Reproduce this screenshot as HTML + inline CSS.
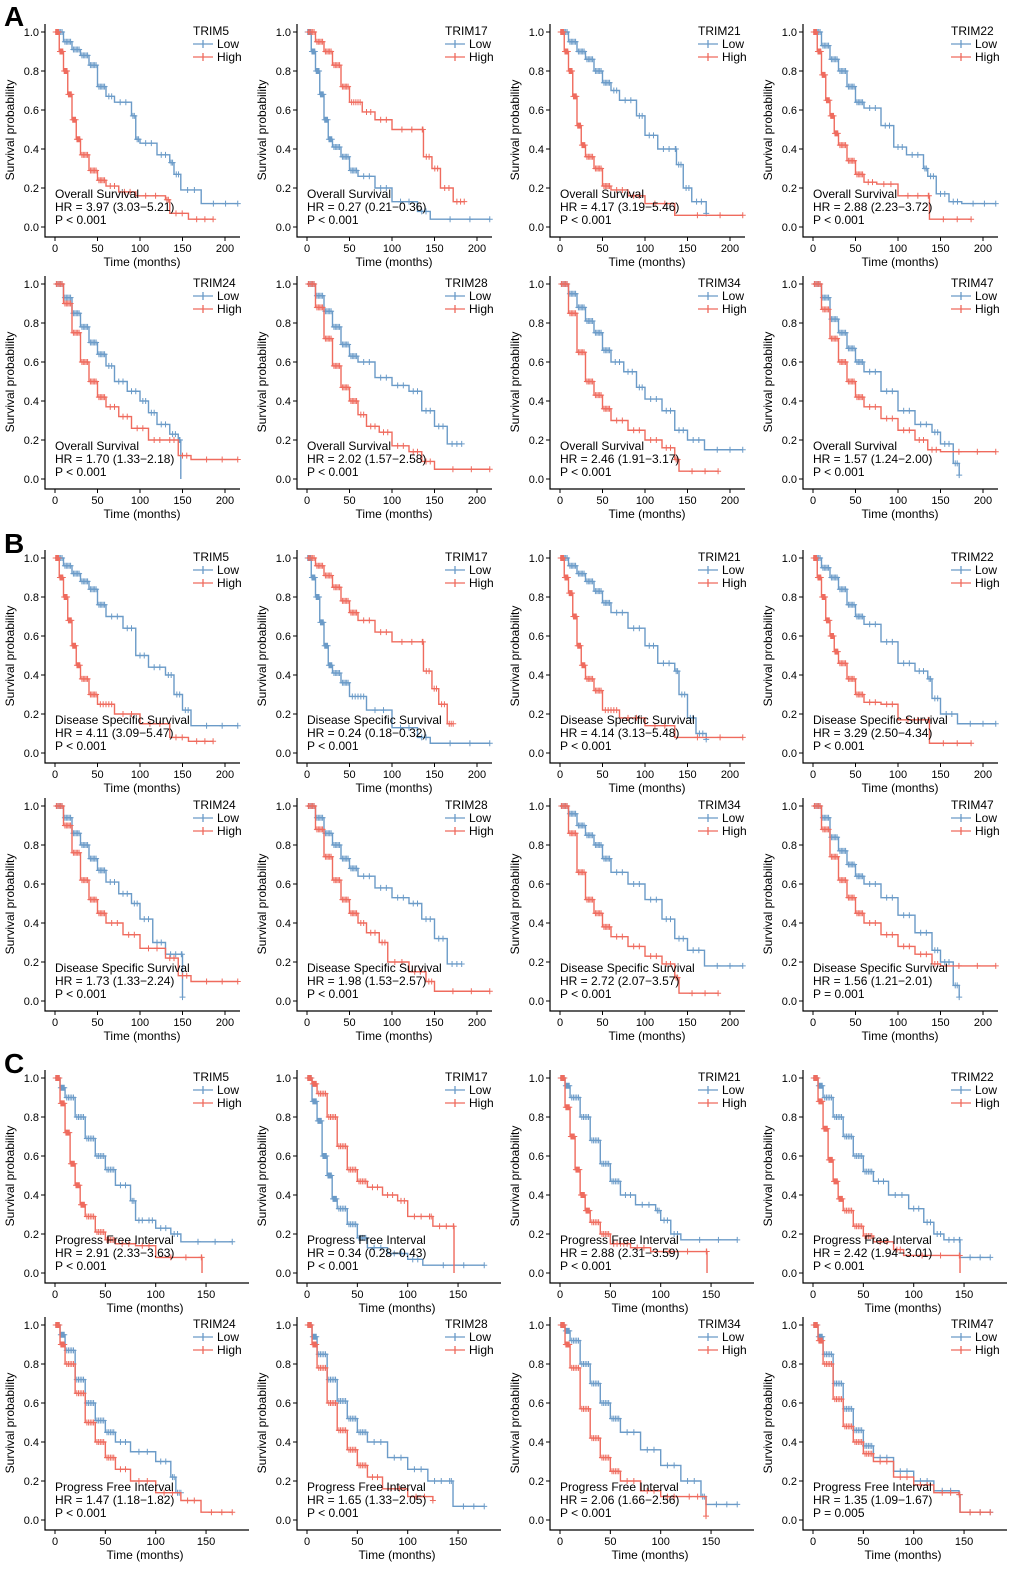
<!DOCTYPE html>
<html><head><meta charset="utf-8"><style>
body{margin:0;background:#fff;width:1020px;height:1583px;overflow:hidden;font-family:"Liberation Sans",Arial,sans-serif}
svg text{font-family:"Liberation Sans",Arial,sans-serif}
</style></head><body>
<svg id="fig" width="1020" height="1583" viewBox="0 0 1020 1583" xmlns="http://www.w3.org/2000/svg"></svg>
<script>
const genes=["TRIM5","TRIM17","TRIM21","TRIM22","TRIM24","TRIM28","TRIM34","TRIM47"];
const sections=["A","B","C"];
const endpoints=["Overall Survival","Disease Specific Survival","Progress Free Interval"];
const hrA=["3.97 (3.03\u22125.21)","0.27 (0.21\u22120.36)","4.17 (3.19\u22125.46)","2.88 (2.23\u22123.72)","1.70 (1.33\u22122.18)","2.02 (1.57\u22122.58)","2.46 (1.91\u22123.17)","1.57 (1.24\u22122.00)"];
const hrB=["4.11 (3.09\u22125.47)","0.24 (0.18\u22120.32)","4.14 (3.13\u22125.48)","3.29 (2.50\u22124.34)","1.73 (1.33\u22122.24)","1.98 (1.53\u22122.57)","2.72 (2.07\u22123.57)","1.56 (1.21\u22122.01)"];
const hrC=["2.91 (2.33\u22123.63)","0.34 (0.28\u22120.43)","2.88 (2.31\u22123.59)","2.42 (1.94\u22123.01)","1.47 (1.18\u22121.82)","1.65 (1.33\u22122.05)","2.06 (1.66\u22122.56)","1.35 (1.09\u22121.67)"];
const pA=["P < 0.001","P < 0.001","P < 0.001","P < 0.001","P < 0.001","P < 0.001","P < 0.001","P < 0.001"];
const pB=["P < 0.001","P < 0.001","P < 0.001","P < 0.001","P < 0.001","P < 0.001","P < 0.001","P = 0.001"];
const pC=["P < 0.001","P < 0.001","P < 0.001","P < 0.001","P < 0.001","P < 0.001","P < 0.001","P = 0.005"];
const xTicksAB=[0,50,100,150,200];
const xTicksC=[0,50,100,150];
const yTicks=[0,0.2,0.4,0.6,0.8,1.0];
const lowA=[
[[0,1],[10,.95],[20,.91],[30,.88],[40,.83],[50,.72],[60,.67],[70,.64],[90,.57],[95,.45],[100,.43],[120,.37],[135,.33],[140,.27],[148,.19],[172,.12],[215,.12]],
[[0,1],[5,.9],[10,.8],[15,.68],[20,.55],[25,.45],[30,.41],[40,.36],[50,.29],[60,.26],[80,.2],[100,.13],[130,.08],[145,.04],[215,.04]],
[[0,1],[10,.95],[20,.9],[30,.86],[40,.8],[50,.74],[60,.7],[70,.65],[90,.57],[100,.47],[115,.4],[135,.4],[137,.32],[145,.2],[155,.13],[172,.07]],
[[0,1],[10,.93],[20,.86],[30,.8],[40,.72],[50,.64],[60,.61],[80,.52],[95,.41],[110,.37],[130,.3],[135,.26],[145,.17],[160,.13],[175,.12],[215,.12]],
[[0,1],[10,.93],[20,.85],[30,.78],[40,.7],[50,.64],[60,.58],[70,.5],[85,.45],[100,.4],[110,.34],[120,.28],[135,.23],[145,.2],[148,0]],
[[0,1],[10,.94],[20,.86],[30,.78],[40,.69],[50,.63],[60,.6],[80,.52],[100,.48],[120,.45],[135,.35],[150,.27],[165,.18],[182,.18]],
[[0,1],[10,.95],[20,.88],[30,.81],[40,.75],[50,.66],[60,.6],[75,.55],[90,.47],[100,.41],[120,.35],[135,.25],[150,.2],[170,.15],[215,.15]],
[[0,1],[10,.93],[20,.82],[30,.75],[40,.67],[50,.6],[60,.55],[80,.45],[100,.35],[120,.28],[140,.24],[150,.18],[165,.08],[172,.02]]];
const highA=[
[[0,1],[5,.9],[10,.8],[15,.68],[20,.55],[25,.45],[30,.37],[40,.29],[50,.24],[60,.21],[75,.18],[95,.16],[130,.14],[135,.07],[157,.04],[186,.04]],
[[0,1],[10,.95],[20,.9],[30,.83],[40,.72],[50,.64],[65,.59],[80,.55],[100,.5],[135,.5],[137,.36],[147,.3],[157,.2],[172,.13],[185,.13]],
[[0,1],[5,.9],[10,.8],[15,.67],[20,.52],[25,.42],[30,.36],[40,.3],[50,.21],[60,.19],[80,.16],[100,.12],[135,.06],[215,.06]],
[[0,1],[5,.9],[10,.78],[15,.65],[20,.57],[25,.48],[30,.42],[40,.34],[50,.27],[60,.23],[75,.22],[100,.16],[135,.16],[137,.04],[186,.04]],
[[0,1],[10,.9],[20,.75],[30,.6],[40,.5],[50,.42],[60,.37],[75,.32],[90,.26],[110,.2],[130,.2],[145,.12],[160,.1],[215,.1]],
[[0,1],[10,.88],[20,.72],[30,.58],[40,.47],[50,.4],[60,.33],[70,.27],[85,.24],[100,.17],[120,.14],[135,.09],[150,.05],[215,.05]],
[[0,1],[10,.85],[20,.65],[30,.5],[40,.43],[50,.36],[60,.3],[80,.25],[100,.2],[120,.16],[135,.1],[140,.04],[186,.04]],
[[0,1],[10,.87],[20,.72],[30,.6],[40,.5],[50,.42],[60,.37],[80,.31],[100,.25],[120,.2],[135,.15],[150,.14],[215,.14]]];
const lowB=[
[[0,1],[10,.96],[20,.92],[30,.88],[40,.84],[50,.76],[60,.7],[80,.64],[95,.5],[110,.44],[130,.4],[140,.3],[150,.22],[160,.14],[215,.14]],
[[0,1],[5,.9],[10,.8],[15,.67],[20,.55],[25,.45],[30,.41],[40,.36],[50,.29],[70,.22],[100,.13],[130,.08],[145,.05],[215,.05]],
[[0,1],[10,.96],[20,.92],[30,.88],[40,.83],[50,.77],[60,.72],[80,.64],[100,.55],[115,.46],[135,.42],[140,.3],[150,.18],[160,.1],[172,.07]],
[[0,1],[10,.95],[20,.9],[30,.84],[40,.76],[50,.7],[60,.66],[80,.57],[100,.46],[120,.42],[135,.38],[140,.28],[150,.2],[170,.15],[215,.15]],
[[0,1],[10,.94],[20,.86],[30,.8],[40,.73],[50,.67],[60,.61],[75,.55],[90,.5],[100,.42],[115,.3],[130,.24],[148,.24],[150,.02]],
[[0,1],[10,.94],[20,.86],[30,.8],[40,.73],[50,.68],[60,.64],[80,.58],[100,.53],[120,.5],[135,.42],[150,.32],[165,.19],[182,.19]],
[[0,1],[10,.96],[20,.9],[30,.85],[40,.8],[50,.73],[60,.66],[80,.6],[100,.52],[120,.42],[135,.32],[150,.26],[170,.18],[215,.18]],
[[0,1],[10,.94],[20,.84],[30,.77],[40,.7],[50,.64],[60,.6],[80,.53],[100,.44],[120,.35],[140,.26],[150,.2],[165,.08],[172,.02]]];
const highB=[
[[0,1],[5,.9],[10,.8],[15,.68],[20,.55],[25,.45],[30,.38],[40,.3],[50,.25],[70,.2],[100,.15],[135,.08],[157,.06],[186,.06]],
[[0,1],[10,.96],[20,.91],[30,.85],[40,.78],[50,.72],[60,.68],[80,.62],[100,.57],[135,.57],[137,.42],[147,.33],[155,.25],[165,.15],[172,.15]],
[[0,1],[5,.9],[10,.82],[15,.7],[20,.55],[25,.45],[30,.38],[40,.32],[50,.22],[70,.18],[100,.14],[135,.08],[215,.08]],
[[0,1],[5,.9],[10,.8],[15,.68],[20,.6],[25,.52],[30,.46],[40,.38],[50,.3],[60,.26],[80,.25],[100,.17],[135,.17],[137,.05],[186,.05]],
[[0,1],[10,.9],[20,.76],[30,.62],[40,.52],[50,.45],[60,.4],[80,.34],[100,.27],[130,.22],[145,.13],[160,.1],[215,.1]],
[[0,1],[10,.88],[20,.74],[30,.62],[40,.52],[50,.45],[60,.4],[70,.35],[85,.3],[95,.2],[120,.15],[140,.1],[150,.05],[215,.05]],
[[0,1],[10,.86],[20,.66],[30,.52],[40,.45],[50,.38],[60,.33],[80,.28],[100,.23],[120,.19],[135,.12],[140,.04],[186,.04]],
[[0,1],[10,.88],[20,.74],[30,.62],[40,.53],[50,.45],[60,.4],[80,.34],[100,.28],[120,.24],[140,.19],[150,.18],[215,.18]]];
const lowC=[
[[0,1],[5,.95],[10,.9],[20,.8],[30,.69],[40,.6],[50,.53],[60,.45],[75,.37],[80,.27],[90,.27],[100,.23],[115,.2],[125,.16],[176,.16]],
[[0,1],[5,.88],[10,.78],[15,.6],[20,.5],[25,.38],[30,.33],[40,.25],[50,.18],[60,.13],[80,.1],[100,.07],[115,.04],[176,.04]],
[[0,1],[5,.96],[10,.9],[20,.8],[30,.68],[40,.56],[50,.47],[60,.4],[75,.35],[95,.32],[100,.27],[110,.2],[120,.17],[176,.17]],
[[0,1],[5,.96],[10,.9],[20,.8],[30,.7],[40,.6],[50,.52],[60,.47],[75,.4],[95,.33],[110,.26],[120,.2],[130,.17],[145,.17],[146,.08],[176,.08]],
[[0,1],[5,.95],[10,.87],[20,.72],[30,.6],[40,.51],[50,.45],[60,.4],[75,.35],[100,.3],[115,.22],[120,.14],[125,.14]],
[[0,1],[5,.94],[10,.85],[20,.72],[30,.61],[40,.52],[50,.45],[60,.4],[80,.32],[100,.26],[120,.2],[140,.2],[145,.07],[176,.07]],
[[0,1],[5,.97],[10,.92],[20,.8],[30,.7],[40,.6],[50,.52],[60,.45],[80,.36],[100,.28],[120,.2],[140,.12],[145,.08],[176,.08]],
[[0,1],[5,.94],[10,.85],[20,.7],[30,.57],[40,.46],[50,.38],[60,.32],[80,.25],[100,.2],[120,.15],[145,.13],[146,.04],[176,.04]]];
const highC=[
[[0,1],[5,.87],[10,.72],[15,.56],[20,.45],[25,.35],[30,.29],[40,.21],[50,.17],[60,.15],[80,.14],[100,.08],[145,.08],[146,0]],
[[0,1],[5,.97],[10,.92],[20,.8],[30,.65],[40,.53],[50,.47],[60,.44],[75,.4],[90,.37],[100,.29],[120,.29],[125,.24],[145,.24],[146,0]],
[[0,1],[5,.85],[10,.7],[15,.53],[20,.4],[25,.32],[30,.26],[40,.2],[50,.15],[70,.13],[90,.11],[145,.11],[146,0]],
[[0,1],[5,.88],[10,.74],[15,.58],[20,.47],[25,.38],[30,.32],[40,.24],[50,.19],[60,.16],[80,.12],[90,.09],[145,.09],[146,0]],
[[0,1],[5,.9],[10,.8],[20,.65],[30,.5],[40,.4],[50,.32],[60,.26],[75,.2],[100,.14],[125,.1],[145,.04],[176,.04]],
[[0,1],[5,.9],[10,.78],[20,.6],[30,.46],[40,.36],[50,.28],[60,.22],[75,.16],[100,.12],[125,.1]],
[[0,1],[5,.9],[10,.78],[20,.57],[30,.42],[40,.32],[50,.25],[60,.2],[80,.15],[100,.12],[120,.12],[145,.02]],
[[0,1],[5,.92],[10,.8],[20,.62],[30,.48],[40,.4],[50,.34],[60,.3],[80,.22],[100,.18],[120,.14],[145,.13],[146,.04],[176,.04]]];

const NS="http://www.w3.org/2000/svg";
const svg=document.getElementById('fig');
const BLUE="#6b9bc8",RED="#ef6b5e";
function mk(tag,attrs,parent,text){const e=document.createElementNS(NS,tag);for(const k in attrs)e.setAttribute(k,attrs[k]);if(text!==undefined)e.textContent=text;parent.appendChild(e);return e;}
const rowTops=[0,252,526,774,1046,1293];
const colLefts=[0,252,505,758];
const secData=[[lowA,highA,hrA,pA],[lowB,highB,hrB,pB],[lowC,highC,hrC,pC]];
const letterY=[26,553,1073];
sections.forEach((s,si)=>{
  const t=mk('text',{x:4,y:letterY[si],'font-size':28,'font-weight':'bold',fill:'#000'},svg,s);
  
  
});
function drawPanel(si,gi){
  const [lows,highs,hrs,ps]=secData[si];
  const top=rowTops[si*2+Math.floor(gi/4)], left=colLefts[gi%4];
  const isC=si===2;
  const pxPer=isC?1.007:0.85;
  const xs=t=>left+55+t*pxPer;
  const ys=v=>top+227-v*195;
  const g=mk('g',{},svg);
  
  
  const ax=mk('path',{d:`M${left+45},${top+24}V${top+237}H${left+(isC?249:240)}`,stroke:'#000','stroke-width':1.2,fill:'none'},g);
  
  
  yTicks.forEach(v=>{
    mk('line',{x1:left+41,x2:left+45,y1:ys(v),y2:ys(v),stroke:'#000'},g);
    const lb=mk('text',{x:left+39,y:ys(v)+4,'font-size':11,'text-anchor':'end'},g,v.toFixed(1));
    
    
  });
  (isC?xTicksC:xTicksAB).forEach(v=>{
    mk('line',{x1:xs(v),x2:xs(v),y1:top+237,y2:top+241,stroke:'#000'},g);
    const lb=mk('text',{x:xs(v),y:top+252,'font-size':11,'text-anchor':'middle'},g,String(v));
    
    
  });
  const xt=mk('text',{x:left+(isC?145:142),y:top+266,'font-size':12,'text-anchor':'middle'},g,'Time (months)');
  
  
  const yt=mk('text',{x:0,y:0,'font-size':12,'text-anchor':'middle',transform:`translate(${left+14},${top+130}) rotate(-90)`},g,'Survival probability');
  
  
  [[lows[gi],BLUE,'low'],[highs[gi],RED,'high']].forEach(([pts,col,nm])=>{
    let d=`M${xs(pts[0][0])},${ys(pts[0][1])}`;
    for(let i=1;i<pts.length;i++){d+=`H${xs(pts[i][0])}V${ys(pts[i][1])}`;}
    const p=mk('path',{d,stroke:col,'stroke-width':1.4,fill:'none'},g);
    
    
    let md='';
    for(let i=0;i<pts.length-1;i++){
      const t0=pts[i][0],t1=pts[i+1][0],v=pts[i][1];
      const n=t0<60?5:2;
      for(let k=1;k<=n;k++){const cx=xs(t0+(t1-t0)*k/(n+1)),cy=ys(v);md+=`M${cx-3},${cy}h6M${cx},${cy-3}v6`;}
    }
    const last=pts[pts.length-1];
    if(last[1]>0.01){const cx=xs(last[0]),cy=ys(last[1]);md+=`M${cx-3},${cy}h6M${cx},${cy-3}v6`;}
    const m=mk('path',{d:md,stroke:col,'stroke-width':1,fill:'none'},g);
    
    
  });
  const lg=mk('g',{},g);
  
  
  mk('text',{x:left+193,y:top+35,'font-size':12},lg,genes[gi]);
  [[BLUE,'Low',48],[RED,'High',61]].forEach(([c,l,y])=>{
    mk('path',{d:`M${left+193},${top+y-4}h20M${left+203},${top+y-8}v8`,stroke:c,'stroke-width':1.3},lg);
    const e=mk('text',{x:left+217,y:top+y,'font-size':12},lg,l);
    
    
  });
  const st=mk('g',{'font-size':12},g);
  
  
  mk('text',{x:left+55,y:top+198},st,endpoints[si]);
  mk('text',{x:left+55,y:top+211},st,'HR = '+hrs[gi]);
  mk('text',{x:left+55,y:top+224},st,ps[gi]);
}
for(let si=0;si<3;si++)for(let gi=0;gi<8;gi++)drawPanel(si,gi);
</script>
</body></html>
